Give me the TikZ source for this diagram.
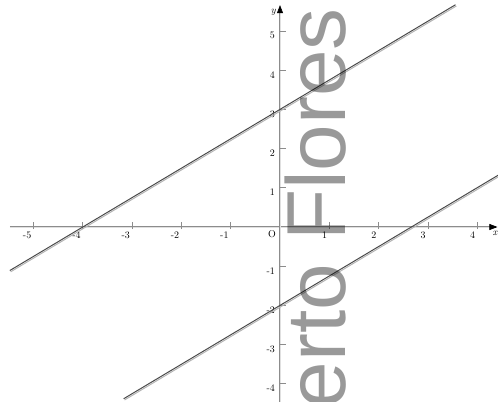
\documentclass[tikz,border=0pt]{standalone}
\usepackage{fontspec}
\usetikzlibrary{arrows.meta}
\newfontfamily\wmfont{Liberation Sans}
\definecolor{axisgray}{HTML}{8C8C8C}
\definecolor{linedark}{HTML}{4A4A4A}
\definecolor{lineshade}{HTML}{B4B4B4}
\tikzset{
  axisline/.style  = {draw=axisgray, line width=0.45pt, double=black!12, double distance=0.9pt},
  tickmark/.style  = {draw=axisgray, line width=0.7pt},
  axistip/.style   = {-{Triangle[length=8bp,width=6bp]}, line width=0.6pt, draw=black},
  graphline/.style = {draw=linedark, line width=1pt},
  shadeline/.style = {draw=lineshade, line width=1pt},
  ticklbl/.style   = {inner sep=0pt, font=\fontsize{10}{10}\selectfont},
  watermark/.style = {rotate=90, inner sep=0pt, text=black, text opacity=0.4,
                      font=\wmfont\fontsize{84}{84}\selectfont},
}

\begin{document}
\begin{tikzpicture}[x=49.3bp, y=39.2bp]
  \useasboundingbox (-280bp,-175bp) rectangle (218bp,227bp);
  \clip (-280bp,-175bp) rectangle (218bp,227bp);

  % axes
  \coordinate (xstart) at (-5.48,0);
  \coordinate (xend) at (4.39,0);
  \coordinate (xtip) at (4.41,0);
  \coordinate (ystart) at (0,-4.5);
  \coordinate (yend) at (0,5.56);
  \coordinate (ytip) at (0,5.66);
  \draw[axisline] (xstart) -- (xend);
  \draw[axisline] (ystart) -- (yend);
  \draw[axistip] (xend) -- (xtip);
  \draw[axistip] (yend) -- (ytip);

  \foreach \t in {-5,-4,-3,-2,-1,1,2,3,4} {
    \draw[tickmark] (\t,0) ++(0,-2bp) -- ++(0,7bp);
    \node[ticklbl, anchor=north east] (xl\t) at ([xshift=-2bp,yshift=-5bp]\t,0) {\t};
  }
  \foreach \t in {-4,-3,-2,-1,1,2,3,4,5} {
    \draw[tickmark] (0,\t) ++(-1bp,0) -- ++(7bp,0);
    \node[ticklbl, anchor=north east] (yl\t) at ([xshift=-5bp,yshift=-1bp]0,\t) {\t};
  }
  \node[ticklbl, anchor=north east] (orig) at ([xshift=-4bp,yshift=-3bp]0,0) {O};
  \node[ticklbl, anchor=north east, font=\itshape\fontsize{10}{10}\selectfont] (xlbl) at ([yshift=-4bp]xtip) {x};
  \node[ticklbl, anchor=east, font=\itshape\fontsize{10}{10}\selectfont] (ylbl) at ([xshift=-4bp,yshift=-7bp]ytip) {y};

  % the two parallel lines
  \coordinate (a1) at (-5.48,-1.11);
  \coordinate (a2) at (3.56,5.67);
  \coordinate (b1) at (-3.17,-4.38);
  \coordinate (b2) at (4.45,1.34);
  \draw[shadeline] ([xshift=0.8bp,yshift=-1.3bp]a1) -- ([xshift=0.8bp,yshift=-1.3bp]a2);
  \draw[graphline] (a1) -- (a2);
  \draw[shadeline] ([xshift=0.8bp,yshift=-1.3bp]b1) -- ([xshift=0.8bp,yshift=-1.3bp]b2);
  \draw[graphline] (b1) -- (b2);

  % watermark
  \node[watermark, anchor=base east] (wm) at (65bp,219bp) {erto Flores};
\end{tikzpicture}
\end{document}
